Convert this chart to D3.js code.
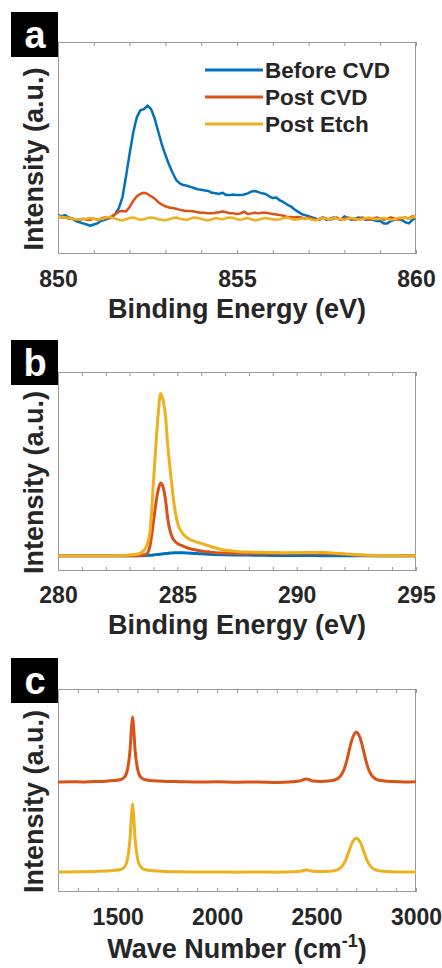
<!DOCTYPE html>
<html>
<head>
<meta charset="utf-8">
<script src="https://cdn.jsdelivr.net/npm/d3@7"></script>
<style>
  html, body { margin: 0; padding: 0; background: #fff; }
  svg { display: block; font-family: "Liberation Sans", Arial, Helvetica, sans-serif; }
</style>
</head>
<body>
<svg id="fig" width="442" height="968"></svg>
<script>
// ---------- Panel a: XPS, Ni 2p3/2 region (intensity, a.u.) ----------
const niEnergyStart = 850;
const niEnergyStep = 0.1;
const niBeforeCvd = [
  0.03, 0.02, 0.03, 0.01, 0.0, -0.02, -0.03, -0.04, -0.05, -0.06,
  -0.05, -0.04, -0.02, -0.01, 0.0, 0.01, 0.04, 0.09, 0.18, 0.36,
  0.55, 0.73, 0.86, 0.92, 0.93, 0.96, 0.93, 0.85, 0.74, 0.63,
  0.54, 0.46, 0.39, 0.33, 0.30, 0.285, 0.28, 0.27, 0.26, 0.25,
  0.245, 0.24, 0.235, 0.22, 0.215, 0.21, 0.22, 0.20, 0.20, 0.205,
  0.20, 0.20, 0.205, 0.215, 0.23, 0.235, 0.225, 0.215, 0.21, 0.19,
  0.175, 0.18, 0.155, 0.14, 0.12, 0.105, 0.08, 0.06, 0.04, 0.03,
  0.02, 0.01, 0.0, -0.01, 0.01, -0.01, 0.0, 0.01, 0.0, -0.01,
  0.02, 0.0, -0.01, 0.0, 0.01, 0.0, -0.01, 0.0, -0.01, -0.02,
  -0.02, -0.04, -0.04, -0.02, -0.01, 0.0, -0.01, -0.03, -0.04, -0.01,
  0.01
];
const niPostCvd = [
  0.02, 0.01, 0.01, 0.0, 0.0, -0.01, -0.01, 0.0, -0.01, -0.01,
  0.0, -0.01, 0.0, 0.01, 0.0, 0.02, 0.04, 0.06, 0.065, 0.06,
  0.10, 0.15, 0.19, 0.21, 0.22, 0.21, 0.19, 0.17, 0.14, 0.12,
  0.105, 0.095, 0.09, 0.085, 0.075, 0.07, 0.065, 0.065, 0.06, 0.055,
  0.05, 0.05, 0.045, 0.045, 0.05, 0.055, 0.06, 0.055, 0.045, 0.045,
  0.04, 0.045, 0.06, 0.04, 0.045, 0.05, 0.045, 0.05, 0.05, 0.045,
  0.04, 0.035, 0.03, 0.025, 0.015, 0.015, 0.01, 0.015, 0.01, 0.0,
  0.01, 0.0, -0.01, 0.0, 0.01, 0.0, -0.01, 0.0, 0.01, -0.01,
  0.0, 0.01, 0.0, -0.01, 0.0, 0.01, 0.0, -0.01, 0.0, 0.01,
  0.0, -0.01, 0.0, 0.01, 0.0, -0.01, 0.0, 0.01, 0.0, 0.02,
  0.01
];
const niPostEtch = [
  0.02, 0.015, 0.01, 0.005, 0.0, -0.005, -0.01, -0.005, 0.0, 0.005,
  0.0, -0.01, -0.005, 0.005, 0.015, 0.01, 0.0, -0.01, -0.015, -0.005,
  0.005, 0.01, 0.0, -0.01, -0.005, 0.005, 0.01, 0.005, -0.005, -0.01,
  -0.015, -0.005, 0.005, 0.01, 0.0, -0.005, -0.01, 0.0, 0.01, 0.005,
  0.0, -0.01, -0.015, -0.005, 0.005, 0.0, -0.005, 0.005, 0.01, 0.005,
  -0.005, -0.01, 0.0, 0.005, -0.005, -0.015, -0.01, 0.0, 0.005, 0.0,
  -0.005, -0.01, -0.005, 0.005, 0.01, 0.0, -0.01, -0.005, 0.0, 0.005,
  0.0, -0.01, -0.015, -0.005, 0.005, 0.0, -0.005, 0.005, 0.0, -0.005,
  -0.01, 0.0, 0.005, 0.0, -0.01, -0.005, 0.005, 0.01, 0.0, -0.005,
  0.0, 0.005, 0.0, -0.01, -0.005, 0.005, 0.01, 0.005, 0.0, 0.01,
  0.015
];
const niEnergy = niBeforeCvd.map((_, i) => +(niEnergyStart + i * niEnergyStep).toFixed(1));
const niTicks = [850, 855, 860];

// ---------- Panel b: XPS, C 1s region (intensity, a.u.) ----------
const c1sEnergy = [
  280, 281, 282, 282.5, 283, 283.3, 283.5, 283.7, 283.85, 284,
  284.1, 284.2, 284.3, 284.4, 284.5, 284.6, 284.7, 284.8, 284.9, 285,
  285.2, 285.4, 285.7, 286, 286.3, 286.6, 287, 287.5, 288, 288.5,
  289, 289.5, 290, 290.5, 291, 291.5, 292, 292.5, 293, 294,
  295
];
const c1sBeforeCvd = [
  0, 0, 0, 0, 0, 0, 0, 0.002, 0.003, 0.005,
  0.007, 0.008, 0.01, 0.012, 0.014, 0.015, 0.017, 0.018, 0.019, 0.02,
  0.019, 0.018, 0.015, 0.012, 0.01, 0.008, 0.006, 0.005, 0.004, 0.003,
  0.002, 0.002, 0.001, 0.001, 0, 0, 0, 0, 0, 0,
  0
];
const c1sPostCvd = [
  0, 0, 0, 0, 0, 0, 0.003, 0.01, 0.06, 0.22,
  0.34, 0.43, 0.475, 0.45, 0.37, 0.24, 0.16, 0.115, 0.095, 0.08,
  0.065, 0.052, 0.04, 0.03, 0.025, 0.02, 0.017, 0.015, 0.015, 0.015,
  0.015, 0.015, 0.016, 0.016, 0.015, 0.013, 0.01, 0.005, 0.002, 0,
  0
];
const c1sPostEtch = [
  0, 0, 0, 0.002, 0.005, 0.01, 0.02, 0.06, 0.15, 0.48,
  0.72, 0.93, 1.06, 1.02, 0.92, 0.72, 0.56, 0.42, 0.30, 0.22,
  0.15, 0.118, 0.095, 0.08, 0.065, 0.05, 0.036, 0.028, 0.024, 0.022,
  0.021, 0.02, 0.02, 0.021, 0.022, 0.018, 0.012, 0.006, 0.003, 0.001,
  0
];
const c1sTicks = [280, 285, 290, 295];

// ---------- Panel c: Raman spectra (intensity, a.u.) ----------
const ramanShift = [
  1200, 1260, 1320, 1380, 1440, 1480, 1510, 1530, 1545, 1555,
  1563, 1570, 1575, 1580, 1587, 1595, 1605, 1620, 1640, 1680,
  1740, 1820, 1900, 2000, 2100, 2200, 2300, 2380, 2420, 2440,
  2450, 2460, 2480, 2520, 2560, 2590, 2610, 2620, 2630, 2640,
  2650, 2660, 2670, 2680, 2690, 2700, 2710, 2720, 2730, 2740,
  2750, 2760, 2770, 2780, 2790, 2810, 2840, 2880, 2940, 3000
];
const ramanPostCvd = [
  0.0, 0.003, 0.0, 0.004, 0.008, 0.014, 0.022, 0.04, 0.09, 0.19,
  0.34, 0.56, 0.65, 0.55, 0.33, 0.19, 0.09, 0.04, 0.022, 0.012,
  0.006, 0.003, 0.0, 0.002, -0.002, 0.0, -0.004, 0.002, 0.012, 0.028,
  0.03, 0.025, 0.01, 0.006, 0.01, 0.02, 0.04, 0.06, 0.09, 0.135,
  0.2, 0.28, 0.365, 0.435, 0.48, 0.5, 0.48, 0.435, 0.365, 0.28,
  0.2, 0.135, 0.09, 0.06, 0.04, 0.02, 0.01, 0.004, 0.0, 0.002
];
const ramanPostEtch = [
  0.0, 0.0, 0.003, 0.004, 0.009, 0.015, 0.023, 0.042, 0.094, 0.2,
  0.355, 0.585, 0.68, 0.575, 0.345, 0.2, 0.094, 0.042, 0.023, 0.012,
  0.006, 0.002, 0.0, 0.001, -0.002, 0.0, -0.002, 0.002, 0.008, 0.018,
  0.02, 0.016, 0.008, 0.004, 0.007, 0.014, 0.027, 0.041, 0.061, 0.092,
  0.136, 0.19, 0.248, 0.296, 0.326, 0.34, 0.326, 0.296, 0.248, 0.19,
  0.136, 0.092, 0.061, 0.041, 0.027, 0.014, 0.007, 0.003, 0.0, 0.0
];
// vertical stacking offset of the Post CVD Raman trace
const ramanStackOffset = 0.9;
const ramanTicks = [1500, 2000, 2500, 3000];

const seriesNames = ["Before CVD", "Post CVD", "Post Etch"];
const seriesColors = ["#0072BD", "#D95319", "#EDB120"];

// ---------- drawing ----------
const svg = d3.select("#fig");
const plotLeft = 58, plotRight = 416;
const textColor = "#262626";
const frameColor = "#9a9a9a";

function drawPanel(cfg) {
  const g = svg.append("g");
  const x = d3.scaleLinear().domain(cfg.xDomain).range([plotLeft, plotRight]);
  const y = d3.scaleLinear().domain(cfg.yDomain).range([cfg.bottom, cfg.top]);

  const clipId = "clip-" + cfg.letter;
  g.append("clipPath").attr("id", clipId)
    .append("rect")
    .attr("x", plotLeft).attr("y", cfg.top)
    .attr("width", plotRight - plotLeft).attr("height", cfg.bottom - cfg.top);

  // minor tick marks along top and bottom edges, pointing inward
  const minor = d3.range(cfg.xDomain[0], cfg.xDomain[1] + cfg.minorStep / 2, cfg.minorStep);
  const tickStyle = sel => {
    sel.select(".domain").remove();
    sel.selectAll(".tick line").attr("stroke", frameColor).attr("stroke-width", 1);
  };
  g.append("g").attr("transform", `translate(0,${cfg.bottom})`)
    .call(d3.axisBottom(x).tickValues(minor).tickSizeInner(-4).tickSizeOuter(0).tickFormat(""))
    .call(tickStyle);
  g.append("g").attr("transform", `translate(0,${cfg.top})`)
    .call(d3.axisTop(x).tickValues(minor).tickSizeInner(-4).tickSizeOuter(0).tickFormat(""))
    .call(tickStyle);

  // tick labels
  const lab = g.append("g").attr("transform", `translate(0,${cfg.bottom})`)
    .call(d3.axisBottom(x).tickValues(cfg.ticks).tickSize(0).tickPadding(cfg.tickPad).tickFormat(d3.format("d")));
  lab.select(".domain").remove();
  lab.selectAll(".tick text")
    .attr("font-family", "Liberation Sans, Arial, sans-serif")
    .attr("font-size", 23).attr("font-weight", "bold").attr("fill", textColor);

  // frame
  g.append("rect")
    .attr("x", plotLeft + 0.5).attr("y", cfg.top + 0.5)
    .attr("width", plotRight - plotLeft - 1).attr("height", cfg.bottom - cfg.top - 1)
    .attr("fill", "none").attr("stroke", frameColor).attr("stroke-width", 1);

  // traces
  const line = d3.line()
    .x(d => x(d[0])).y(d => y(d[1]))
    .curve(cfg.curve);
  const traces = g.append("g").attr("clip-path", `url(#${clipId})`);
  cfg.series.forEach(s => {
    traces.append("path")
      .datum(s.x.map((xv, i) => [xv, s.y[i] + (s.offset || 0)]))
      .attr("d", line)
      .attr("fill", "none")
      .attr("stroke", s.color)
      .attr("stroke-width", cfg.lineWidth)
      .attr("stroke-linejoin", "round")
      .attr("stroke-linecap", "round");
  });

  // x-axis title
  const xt = g.append("text")
    .attr("x", (plotLeft + plotRight) / 2).attr("y", cfg.titleY)
    .attr("text-anchor", "middle")
    .attr("font-size", 27).attr("font-weight", "bold").attr("fill", textColor);
  cfg.xTitle(xt);

  // y-axis title
  const yc = (cfg.top + cfg.bottom) / 2 + 11;
  g.append("text")
    .attr("transform", `translate(43,${yc}) rotate(-90)`)
    .attr("text-anchor", "middle")
    .attr("font-size", 27).attr("font-weight", "bold").attr("fill", textColor)
    .text("Intensity (a.u.)");

  // panel letter badge
  g.append("rect")
    .attr("x", 11).attr("y", cfg.badgeTop).attr("width", 47).attr("height", 45)
    .attr("fill", "#000");
  g.append("text")
    .attr("x", 35).attr("y", cfg.badgeTop + 36)
    .attr("text-anchor", "middle")
    .attr("font-size", 38).attr("font-weight", "bold").attr("fill", "#fff")
    .text(cfg.letter);

  return { g, x, y };
}

// Panel a
const pa = drawPanel({
  letter: "a", top: 42, bottom: 254, badgeTop: 12,
  xDomain: [850, 860], yDomain: [-0.3, 1.5], minorStep: 1, ticks: niTicks, tickPad: 17,
  titleY: 318, lineWidth: 2.5, curve: d3.curveLinear,
  xTitle: t => t.text("Binding Energy (eV)"),
  series: [
    { x: niEnergy, y: niBeforeCvd, color: seriesColors[0] },
    { x: niEnergy, y: niPostCvd, color: seriesColors[1] },
    { x: niEnergy, y: niPostEtch, color: seriesColors[2] }
  ]
});

// legend inside panel a
const legend = pa.g.append("g");
seriesNames.forEach((name, i) => {
  const ly = 70 + i * 27;
  legend.append("line")
    .attr("x1", 205).attr("x2", 263).attr("y1", ly).attr("y2", ly)
    .attr("stroke", seriesColors[i]).attr("stroke-width", 3);
  legend.append("text")
    .attr("x", 265).attr("y", ly + 8)
    .attr("font-size", 22.5).attr("font-weight", "bold").attr("fill", textColor)
    .text(name);
});

// Panel b
drawPanel({
  letter: "b", top: 372, bottom: 571, badgeTop: 340,
  xDomain: [280, 295], yDomain: [-0.1, 1.2], minorStep: 1, ticks: c1sTicks, tickPad: 16,
  titleY: 634, lineWidth: 3, curve: d3.curveMonotoneX,
  xTitle: t => t.text("Binding Energy (eV)"),
  series: [
    { x: c1sEnergy, y: c1sBeforeCvd, color: seriesColors[0] },
    { x: c1sEnergy, y: c1sPostCvd, color: seriesColors[1] },
    { x: c1sEnergy, y: c1sPostEtch, color: seriesColors[2] }
  ]
});

// Panel c
drawPanel({
  letter: "c", top: 689, bottom: 892, badgeTop: 658,
  xDomain: [1200, 3000], yDomain: [-0.2, 1.83], minorStep: 100, ticks: ramanTicks, tickPad: 17,
  titleY: 958, lineWidth: 3, curve: d3.curveMonotoneX,
  xTitle: t => {
    t.append("tspan").text("Wave Number (cm");
    t.append("tspan").attr("font-size", 18).attr("dy", -11).text("-1");
    t.append("tspan").attr("dy", 11).text(")");
  },
  series: [
    { x: ramanShift, y: ramanPostCvd, offset: ramanStackOffset, color: seriesColors[1] },
    { x: ramanShift, y: ramanPostEtch, color: seriesColors[2] }
  ]
});
</script>
</body>
</html>
